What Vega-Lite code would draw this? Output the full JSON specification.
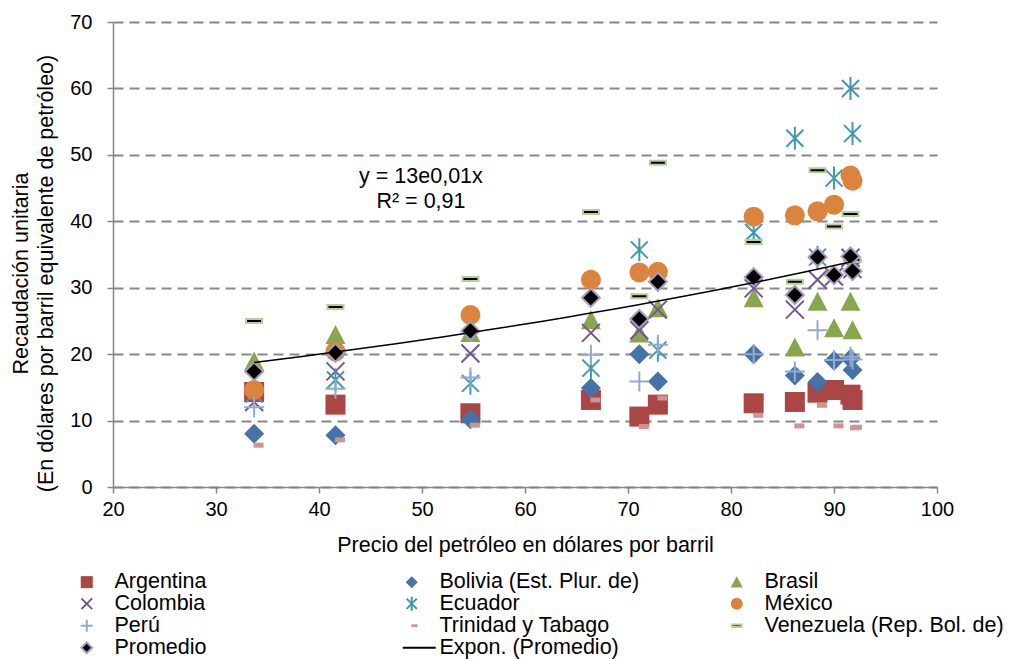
{
  "$schema": "https://vega.github.io/schema/vega-lite/v6.json",
  "width": 824,
  "height": 465,
  "autosize": {"type": "none"},
  "padding": {"left": 113, "top": 22, "right": 79, "bottom": 172},
  "background": "white",
  "config": {
    "font": "Liberation Sans",
    "view": {"stroke": null},
    "axis": {
      "labelFont": "Liberation Sans", "labelFontSize": 20, "labelColor": "#000",
      "titleFont": "Liberation Sans", "titleFontSize": 21.5, "titleFontWeight": "normal", "titleColor": "#000",
      "domainColor": "#868686", "tickColor": "#868686", "domainWidth": 1.5, "tickWidth": 1.5, "tickSize": 6
    }
  },
  "data": {
    "values": [
      {"s": "Argentina", "x": 33.7, "y": 14.3}, {"s": "Argentina", "x": 41.6, "y": 12.4}, {"s": "Argentina", "x": 54.7, "y": 11.1}, {"s": "Argentina", "x": 66.4, "y": 13.1}, {"s": "Argentina", "x": 71.1, "y": 10.6}, {"s": "Argentina", "x": 72.9, "y": 12.4}, {"s": "Argentina", "x": 82.2, "y": 12.6}, {"s": "Argentina", "x": 86.2, "y": 12.8}, {"s": "Argentina", "x": 88.4, "y": 14.2}, {"s": "Argentina", "x": 90.0, "y": 14.6}, {"s": "Argentina", "x": 91.6, "y": 13.9}, {"s": "Argentina", "x": 91.8, "y": 13.1},
      {"s": "Bolivia (Est. Plur. de)", "x": 33.7, "y": 8.0}, {"s": "Bolivia (Est. Plur. de)", "x": 41.6, "y": 7.8}, {"s": "Bolivia (Est. Plur. de)", "x": 54.7, "y": 10.2}, {"s": "Bolivia (Est. Plur. de)", "x": 66.4, "y": 14.9}, {"s": "Bolivia (Est. Plur. de)", "x": 71.1, "y": 20.0}, {"s": "Bolivia (Est. Plur. de)", "x": 72.9, "y": 15.9}, {"s": "Bolivia (Est. Plur. de)", "x": 82.2, "y": 20.0}, {"s": "Bolivia (Est. Plur. de)", "x": 86.2, "y": 16.8}, {"s": "Bolivia (Est. Plur. de)", "x": 88.4, "y": 15.8}, {"s": "Bolivia (Est. Plur. de)", "x": 90.0, "y": 19.0}, {"s": "Bolivia (Est. Plur. de)", "x": 91.6, "y": 19.3}, {"s": "Bolivia (Est. Plur. de)", "x": 91.8, "y": 17.6},
      {"s": "Brasil", "x": 33.7, "y": 18.9}, {"s": "Brasil", "x": 41.6, "y": 22.9}, {"s": "Brasil", "x": 54.7, "y": 23.2}, {"s": "Brasil", "x": 66.4, "y": 25.1}, {"s": "Brasil", "x": 71.1, "y": 23.1}, {"s": "Brasil", "x": 72.9, "y": 26.9}, {"s": "Brasil", "x": 82.2, "y": 28.4}, {"s": "Brasil", "x": 86.2, "y": 21.0}, {"s": "Brasil", "x": 88.4, "y": 27.9}, {"s": "Brasil", "x": 90.0, "y": 23.9}, {"s": "Brasil", "x": 91.6, "y": 27.9}, {"s": "Brasil", "x": 91.8, "y": 23.6},
      {"s": "Colombia", "x": 33.7, "y": 12.8}, {"s": "Colombia", "x": 41.6, "y": 17.4}, {"s": "Colombia", "x": 54.7, "y": 20.1}, {"s": "Colombia", "x": 66.4, "y": 23.2}, {"s": "Colombia", "x": 71.1, "y": 23.6}, {"s": "Colombia", "x": 72.9, "y": 26.7}, {"s": "Colombia", "x": 82.2, "y": 29.9}, {"s": "Colombia", "x": 86.2, "y": 26.7}, {"s": "Colombia", "x": 88.4, "y": 31.2}, {"s": "Colombia", "x": 90.0, "y": 31.7}, {"s": "Colombia", "x": 91.6, "y": 34.5}, {"s": "Colombia", "x": 91.8, "y": 32.8},
      {"s": "Ecuador", "x": 33.7, "y": 14.0}, {"s": "Ecuador", "x": 41.6, "y": 16.1}, {"s": "Ecuador", "x": 54.7, "y": 15.6}, {"s": "Ecuador", "x": 66.4, "y": 17.9}, {"s": "Ecuador", "x": 71.1, "y": 35.7}, {"s": "Ecuador", "x": 72.9, "y": 20.6}, {"s": "Ecuador", "x": 82.2, "y": 38.3}, {"s": "Ecuador", "x": 86.2, "y": 52.5}, {"s": "Ecuador", "x": 88.4, "y": 34.6}, {"s": "Ecuador", "x": 90.0, "y": 46.5}, {"s": "Ecuador", "x": 91.6, "y": 60.0}, {"s": "Ecuador", "x": 91.8, "y": 53.2},
      {"s": "México", "x": 33.7, "y": 14.6}, {"s": "México", "x": 41.6, "y": 20.4}, {"s": "México", "x": 54.7, "y": 25.9}, {"s": "México", "x": 66.4, "y": 31.2}, {"s": "México", "x": 71.1, "y": 32.3}, {"s": "México", "x": 72.9, "y": 32.4}, {"s": "México", "x": 82.2, "y": 40.7}, {"s": "México", "x": 86.2, "y": 40.9}, {"s": "México", "x": 88.4, "y": 41.5}, {"s": "México", "x": 90.0, "y": 42.5}, {"s": "México", "x": 91.6, "y": 46.9}, {"s": "México", "x": 91.8, "y": 46.1},
      {"s": "Perú", "x": 33.7, "y": 12.0}, {"s": "Perú", "x": 41.6, "y": 14.8}, {"s": "Perú", "x": 54.7, "y": 16.5}, {"s": "Perú", "x": 66.4, "y": 19.9}, {"s": "Perú", "x": 71.1, "y": 15.9}, {"s": "Perú", "x": 72.9, "y": 21.4}, {"s": "Perú", "x": 82.2, "y": 20.0}, {"s": "Perú", "x": 86.2, "y": 17.4}, {"s": "Perú", "x": 88.4, "y": 23.6}, {"s": "Perú", "x": 90.0, "y": 19.1}, {"s": "Perú", "x": 91.6, "y": 19.6}, {"s": "Perú", "x": 91.8, "y": 19.2},
      {"s": "Trinidad y Tabago", "x": 33.7, "y": 6.3}, {"s": "Trinidad y Tabago", "x": 41.6, "y": 7.1}, {"s": "Trinidad y Tabago", "x": 54.7, "y": 9.3}, {"s": "Trinidad y Tabago", "x": 66.4, "y": 13.1}, {"s": "Trinidad y Tabago", "x": 71.1, "y": 9.1}, {"s": "Trinidad y Tabago", "x": 72.9, "y": 13.4}, {"s": "Trinidad y Tabago", "x": 82.2, "y": 10.8}, {"s": "Trinidad y Tabago", "x": 86.2, "y": 9.2}, {"s": "Trinidad y Tabago", "x": 88.4, "y": 12.3}, {"s": "Trinidad y Tabago", "x": 90.0, "y": 9.2}, {"s": "Trinidad y Tabago", "x": 91.6, "y": 8.9}, {"s": "Trinidad y Tabago", "x": 91.8, "y": 9.0},
      {"s": "Venezuela (Rep. Bol. de)", "x": 33.7, "y": 25.0}, {"s": "Venezuela (Rep. Bol. de)", "x": 41.6, "y": 27.1}, {"s": "Venezuela (Rep. Bol. de)", "x": 54.7, "y": 31.3}, {"s": "Venezuela (Rep. Bol. de)", "x": 66.4, "y": 41.4}, {"s": "Venezuela (Rep. Bol. de)", "x": 71.1, "y": 28.7}, {"s": "Venezuela (Rep. Bol. de)", "x": 72.9, "y": 48.8}, {"s": "Venezuela (Rep. Bol. de)", "x": 82.2, "y": 36.9}, {"s": "Venezuela (Rep. Bol. de)", "x": 86.2, "y": 30.9}, {"s": "Venezuela (Rep. Bol. de)", "x": 88.4, "y": 47.7}, {"s": "Venezuela (Rep. Bol. de)", "x": 90.0, "y": 39.2}, {"s": "Venezuela (Rep. Bol. de)", "x": 91.6, "y": 41.1}, {"s": "Venezuela (Rep. Bol. de)", "x": 91.8, "y": 34.2},
      {"s": "Promedio", "x": 33.7, "y": 17.4}, {"s": "Promedio", "x": 41.6, "y": 20.2}, {"s": "Promedio", "x": 54.7, "y": 23.5}, {"s": "Promedio", "x": 66.4, "y": 28.5}, {"s": "Promedio", "x": 71.1, "y": 25.3}, {"s": "Promedio", "x": 72.9, "y": 30.9}, {"s": "Promedio", "x": 82.2, "y": 31.6}, {"s": "Promedio", "x": 86.2, "y": 28.9}, {"s": "Promedio", "x": 88.4, "y": 34.6}, {"s": "Promedio", "x": 90.0, "y": 31.9}, {"s": "Promedio", "x": 91.6, "y": 34.7}, {"s": "Promedio", "x": 91.8, "y": 32.5}
    ]
  },
  "layer": [
    {
      "mark": {"type": "point", "filled": true, "opacity": 1, "strokeWidth": 2, "size": 400},
      "encoding": {
        "x": {
          "field": "x", "type": "quantitative",
          "scale": {"domain": [20, 100], "nice": false, "zero": false},
          "axis": {
            "values": [20, 30, 40, 50, 60, 70, 80, 90, 100], "grid": false,
            "title": "Precio del petróleo en dólares por barril",
            "labelPadding": 6, "labelFlush": false, "labelOverlap": false,
            "titleY": 58, "titleBaseline": "middle", "zindex": 1
          }
        },
        "y": {
          "field": "y", "type": "quantitative",
          "scale": {"domain": [0, 70], "nice": false},
          "axis": {
            "values": [0, 10, 20, 30, 40, 50, 60, 70], "grid": true,
            "gridDash": [10, 6], "gridColor": "#878787", "gridWidth": 2,
            "title": ["Recaudación unitaria", "(En dólares por barril equivalente de petróleo)"],
            "titleX": -92, "titleY": 251, "titleAngle": 270, "titleAlign": "center",
            "titleBaseline": "middle", "titleLineHeight": 25, "labelPadding": 15
          }
        },
        "shape": {
          "field": "s", "type": "nominal",
          "scale": {
            "domain": ["Argentina", "Bolivia (Est. Plur. de)", "Brasil", "Colombia", "Ecuador", "México", "Perú", "Trinidad y Tabago", "Venezuela (Rep. Bol. de)", "Promedio", "Expon. (Promedio)"],
            "range": ["square", "diamond", "M0,-1L1,0.9L-1,0.9Z", "M-0.9,-0.9L0.9,0.9M-0.9,0.9L0.9,-0.9", "M-0.85,-0.85L0.85,0.85M-0.85,0.85L0.85,-0.85M0,-1.15L0,1.15", "circle", "M-1,0L1,0M0,-1L0,1", "M-0.05,-0.25H0.95V0.25H-0.05Z", "M-0.8,-0.2H0.8V0.2H-0.8Z", "M-0.9,0L0,-0.9L0.9,0L0,0.9Z", "M-1.5,0H4"]
          },
          "legend": {
            "title": null, "orient": "none", "direction": "horizontal", "legendX": -37, "legendY": 549,
            "columns": 3, "gridAlign": "all", "columnPadding": 44, "rowPadding": -2,
            "symbolSize": 144, "symbolStrokeWidth": 2, "labelFontSize": 21.5, "labelFont": "Liberation Sans",
            "labelOffset": 17, "padding": 0, "labelColor": "#000", "labelLimit": 400
          }
        },
        "fill": {
          "field": "s", "type": "nominal",
          "scale": {
            "domain": ["Argentina", "Bolivia (Est. Plur. de)", "Brasil", "Colombia", "Ecuador", "México", "Perú", "Trinidad y Tabago", "Venezuela (Rep. Bol. de)", "Promedio", "Expon. (Promedio)"],
            "range": ["#AA4643", "#4572A7", "#89A54E", "transparent", "transparent", "#DB843D", "transparent", "#D19392", "#000000", "#000000", "transparent"]
          }
        },
        "stroke": {
          "field": "s", "type": "nominal",
          "scale": {
            "domain": ["Argentina", "Bolivia (Est. Plur. de)", "Brasil", "Colombia", "Ecuador", "México", "Perú", "Trinidad y Tabago", "Venezuela (Rep. Bol. de)", "Promedio", "Expon. (Promedio)"],
            "range": ["transparent", "transparent", "transparent", "#71588F", "#4198AF", "transparent", "#93A9CF", "transparent", "#B9CD96", "#A99BBD", "#000000"]
          }
        }
      }
    },
    {
      "transform": [
        {"filter": "datum.s === 'Promedio'"},
        {"regression": "y", "on": "x", "method": "exp"}
      ],
      "mark": {"type": "line", "color": "#000000", "strokeWidth": 1.5},
      "encoding": {
        "x": {"field": "x", "type": "quantitative"},
        "y": {"field": "y", "type": "quantitative"}
      }
    },
    {
      "data": {"values": [{"label": "y = 13e0,01x\nR² = 0,91", "px": 49.9, "py": 46.6}]},
      "mark": {"type": "text", "fontSize": 21.5, "font": "Liberation Sans", "lineHeight": 25, "align": "center", "baseline": "middle", "lineBreak": "\n", "color": "#000"},
      "encoding": {
        "x": {"field": "px", "type": "quantitative"},
        "y": {"field": "py", "type": "quantitative"},
        "text": {"field": "label"}
      }
    }
  ]
}
